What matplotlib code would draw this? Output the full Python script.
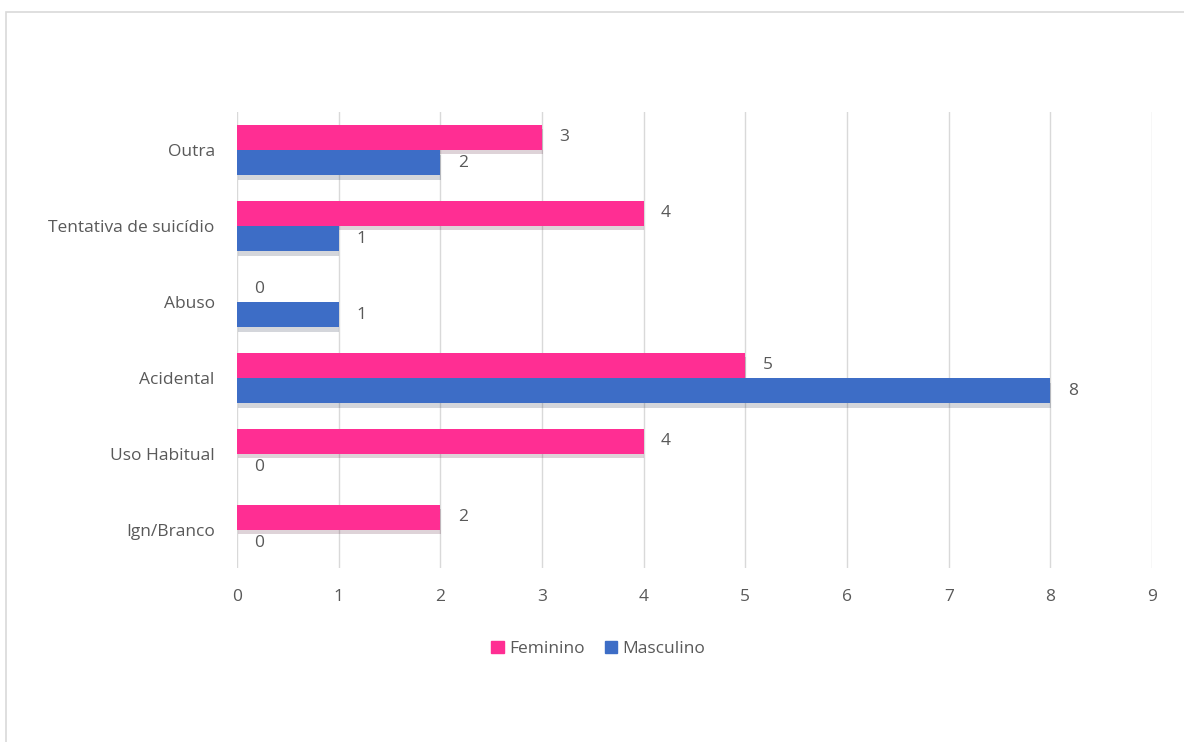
import numpy as np
import matplotlib.pyplot as plt
from matplotlib.patches import Rectangle
import matplotlib.patheffects as pe

plt.rcParams['font.family'] = ['Open Sans', 'DejaVu Sans']

# categories from top to bottom
categorias = ['Outra', 'Tentativa de suicídio', 'Abuso', 'Acidental', 'Uso Habitual', 'Ign/Branco']
feminino = [3, 4, 0, 5, 4, 2]
masculino = [2, 1, 1, 8, 0, 0]
xticks = list(range(0, 10))

cor_fem = '#FF2E93'
cor_masc = '#3D6DC6'
cinza = '#595959'
fs = 12.5

fig = plt.figure(figsize=(11.84, 7.42), dpi=100)
ax = fig.add_axes([0.2002, 0.2345, 0.7728, 0.6145])

# outer chart border
fig.patches.append(Rectangle((0.005, -0.01), 1.0, 0.994, transform=fig.transFigure,
                             fill=False, edgecolor='#D9D9D9', linewidth=1.2))

n = len(categorias)
y = np.arange(n)[::-1]
h = 0.33
off = 0.17

b1 = ax.barh(y + off, feminino, height=h, color=cor_fem, zorder=3)
b2 = ax.barh(y - off, masculino, height=h, color=cor_masc, zorder=3)
sombra = [pe.SimplePatchShadow(offset=(0.5, -3), alpha=0.18), pe.Normal()]
for b in list(b1) + list(b2):
    b.set_path_effects(sombra)

for yi, v in zip(y + off, feminino):
    ax.text(v + 0.17, yi, str(v), va='center', ha='left', fontsize=fs, color=cinza)
for yi, v in zip(y - off, masculino):
    ax.text(v + 0.17, yi, str(v), va='center', ha='left', fontsize=fs, color=cinza)

ax.set_xlim(0, 9)
ax.set_ylim(-0.5, n - 0.5)
ax.set_xticks(xticks)
ax.set_yticks(y)
ax.set_yticklabels(categorias)
ax.tick_params(axis='both', length=0, labelsize=fs, labelcolor=cinza)
ax.tick_params(axis='x', pad=15)
ax.tick_params(axis='y', pad=16)
ax.grid(axis='x', color='#D9D9D9', linewidth=1, zorder=0)
for s in ax.spines.values():
    s.set_visible(False)

handles = [Rectangle((0, 0), 1, 1, color=cor_fem), Rectangle((0, 0), 1, 1, color=cor_masc)]
ax.legend(handles, ['Feminino', 'Masculino'], loc='upper center',
          bbox_to_anchor=(0.395, -0.125), ncol=2, frameon=False,
          fontsize=fs, labelcolor=cinza, handlelength=0.7, handleheight=0.7,
          handletextpad=0.3, columnspacing=1.2)

fig.savefig('out.png', dpi=100)
